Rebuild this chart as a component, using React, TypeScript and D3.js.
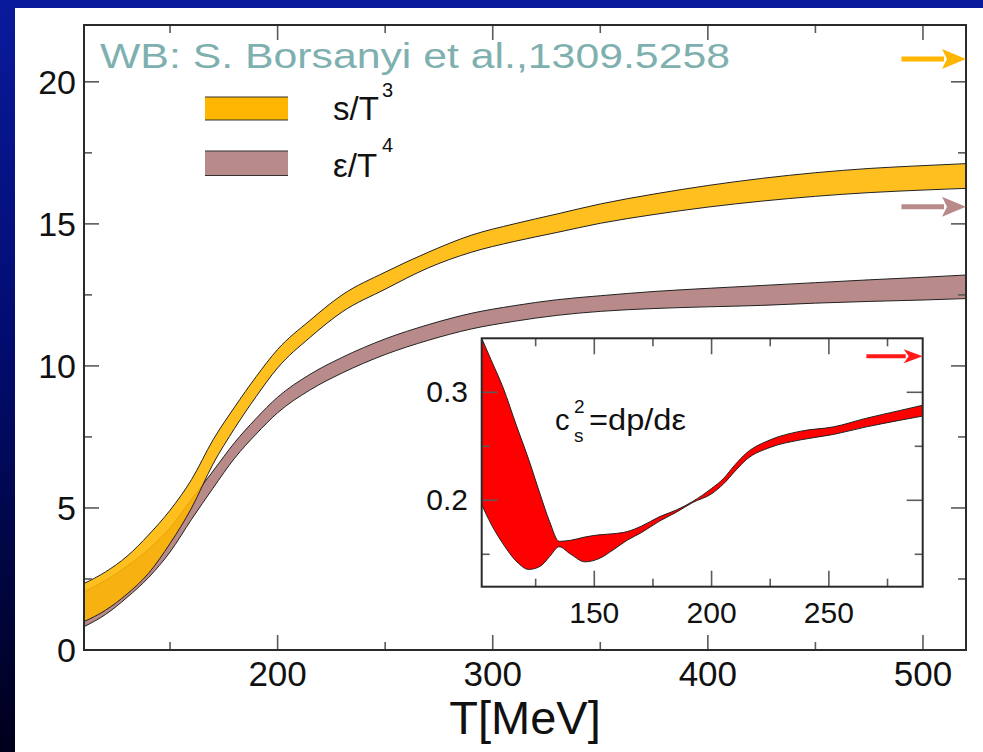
import React from "react";
import * as d3 from "d3";

// Temperature grid (MeV) for the thermodynamic bands
const tempGrid = [110, 120, 130, 140, 150, 160, 170, 180, 190, 200, 215, 230, 250, 270, 290, 310, 330, 350, 375, 400, 425, 450, 475, 500, 520];

// Entropy density s/T^3 (upper / lower edge of the error band)
const entropyUpper = [2.34, 2.75, 3.3, 4.05, 4.92, 6.0, 7.4, 8.55, 9.62, 10.58, 11.6, 12.5, 13.3, 14.0, 14.6, 15.0, 15.35, 15.7, 16.05, 16.35, 16.6, 16.8, 16.95, 17.05, 17.12];
const entropyLower = [1.0, 1.4, 1.97, 2.7, 3.75, 5.0, 6.55, 7.8, 8.92, 9.93, 11.0, 11.9, 12.7, 13.45, 14.0, 14.38, 14.7, 15.02, 15.33, 15.59, 15.8, 15.97, 16.1, 16.19, 16.25];

// Energy density ε/T^4 (upper / lower edge)
const energyUpper = [2.05, 2.45, 2.95, 3.55, 4.3, 5.3, 6.3, 7.3, 8.15, 8.9, 9.7, 10.3, 10.95, 11.45, 11.85, 12.12, 12.33, 12.47, 12.62, 12.73, 12.83, 12.93, 13.03, 13.12, 13.2];
const energyLower = [0.82, 1.25, 1.85, 2.55, 3.45, 4.6, 5.7, 6.75, 7.6, 8.35, 9.15, 9.75, 10.4, 10.9, 11.3, 11.57, 11.78, 11.92, 12.02, 12.08, 12.13, 12.21, 12.27, 12.32, 12.37];

// Speed of sound squared c_s^2 = dp/dε
const soundTemp = [102, 106, 111, 117, 122, 127, 131, 135, 140, 146, 152, 158, 164, 170, 178, 185, 192, 200, 205, 210, 215, 225, 238, 252, 266, 280, 290];
const soundUpper = [0.35, 0.33, 0.305, 0.268, 0.238, 0.205, 0.18, 0.162, 0.163, 0.166, 0.168, 0.169, 0.171, 0.176, 0.185, 0.191, 0.199, 0.211, 0.22, 0.233, 0.244, 0.256, 0.264, 0.268, 0.276, 0.283, 0.288];
const soundLower = [0.196, 0.178, 0.16, 0.143, 0.136, 0.139, 0.148, 0.157, 0.15, 0.143, 0.146, 0.154, 0.163, 0.17, 0.181, 0.189, 0.198, 0.206, 0.215, 0.227, 0.238, 0.249, 0.256, 0.261, 0.268, 0.274, 0.278];

// Stefan–Boltzmann / conformal limits marked by arrows
const entropyLimit = 20.8;
const energyLimit = 15.6;
const soundLimit = 1 / 3;

// Axis ticks
const mainXMajor = [200, 300, 400, 500];
const mainXMinor = [150, 250, 350, 450];
const mainYMajor = [0, 5, 10, 15, 20];
const mainYMinor = [2.5, 7.5, 12.5, 17.5];
const insetXMajor = [150, 200, 250];
const insetXMinor = [125, 175, 225, 275];
const insetYMajor = [0.2, 0.3];
const insetYMinor = [0.15, 0.25];

const W = 983;
const H = 752;
const FONT = "'Liberation Sans', Arial, Helvetica, sans-serif";

type Pt = { t: number; lo: number; hi: number };

const zip = (t: number[], lo: number[], hi: number[]): Pt[] =>
  t.map((v, i) => ({ t: v, lo: lo[i], hi: hi[i] }));

export default function App() {
  // main panel
  const x = d3.scaleLinear().domain([110, 520]).range([84, 966]);
  const y = d3.scaleLinear().domain([0, 22]).range([650, 25]);
  // inset panel
  const xi = d3.scaleLinear().domain([102, 290]).range([481.7, 922.7]);
  const yi = d3.scaleLinear().domain([0.12, 0.35]).range([586.7, 338.3]);

  const entropy = zip(tempGrid, entropyLower, entropyUpper);
  const energy = zip(tempGrid, energyLower, energyUpper);
  const sound = zip(soundTemp, soundLower, soundUpper);

  const bandMain = d3
    .area<Pt>()
    .x((d) => x(d.t))
    .y0((d) => y(d.lo))
    .y1((d) => y(d.hi))
    .curve(d3.curveMonotoneX);
  const edgeMain = (key: "lo" | "hi") =>
    d3
      .line<Pt>()
      .x((d) => x(d.t))
      .y((d) => y(d[key]))
      .curve(d3.curveMonotoneX);
  const bandInset = d3
    .area<Pt>()
    .x((d) => xi(d.t))
    .y0((d) => yi(d.lo))
    .y1((d) => yi(d.hi))
    .curve(d3.curveMonotoneX);
  const edgeInset = (key: "lo" | "hi") =>
    d3
      .line<Pt>()
      .x((d) => xi(d.t))
      .y((d) => yi(d[key]))
      .curve(d3.curveMonotoneX);

  const [mx0, mx1] = x.range();
  const [my0, my1] = y.range();
  const [ix0, ix1] = xi.range();
  const [iy0, iy1] = yi.range();

  const tickColor = "#5a5a5a";
  const frameColor = "#2a2a2a";

  const frameTicks = (
    sx: (v: number) => number,
    sy: (v: number) => number,
    xMaj: number[],
    xMin: number[],
    yMaj: number[],
    yMin: number[],
    left: number,
    right: number,
    bottom: number,
    top: number,
    major: number,
    minor: number
  ) => {
    const out: React.ReactNode[] = [];
    const addX = (vals: number[], len: number, k: string) =>
      vals.forEach((v, i) => {
        out.push(<line key={`xb${k}${i}`} x1={sx(v)} x2={sx(v)} y1={bottom} y2={bottom - len} />);
        out.push(<line key={`xt${k}${i}`} x1={sx(v)} x2={sx(v)} y1={top} y2={top + len} />);
      });
    const addY = (vals: number[], len: number, k: string) =>
      vals.forEach((v, i) => {
        out.push(<line key={`yl${k}${i}`} y1={sy(v)} y2={sy(v)} x1={left} x2={left + len} />);
        out.push(<line key={`yr${k}${i}`} y1={sy(v)} y2={sy(v)} x1={right} x2={right - len} />);
      });
    addX(xMaj, major, "M");
    addX(xMin, minor, "m");
    addY(yMaj, major, "M");
    addY(yMin, minor, "m");
    return out;
  };

  const arrow = (x1: number, x2: number, yy: number, color: string, width: number, headLen: number, headHalf: number) => (
    <g>
      <line x1={x1} x2={x2 - headLen + 2} y1={yy} y2={yy} stroke={color} strokeWidth={width} />
      <path d={`M${x2},${yy} L${x2 - headLen},${yy - headHalf} L${x2 - headLen + 5},${yy} L${x2 - headLen},${yy + headHalf} Z`} fill={color} />
    </g>
  );

  return (
    <svg
      width={W}
      height={H}
      viewBox={`0 0 ${W} ${H}`}
      style={{ position: "absolute", left: 0, top: 0, display: "block" }}
      fontFamily={FONT}
    >
      <defs>
        <linearGradient id="bgGrad" x1="0" y1="0" x2="0" y2="1">
          <stop offset="0" stopColor="#0a1a9c" />
          <stop offset="0.45" stopColor="#020c70" />
          <stop offset="1" stopColor="#00001c" />
        </linearGradient>
        <clipPath id="mainClip">
          <rect x={mx0} y={my1} width={mx1 - mx0} height={my0 - my1} />
        </clipPath>
        <clipPath id="insetClip">
          <rect x={ix0} y={iy1} width={ix1 - ix0} height={iy0 - iy1} />
        </clipPath>
      </defs>

      <rect x={0} y={0} width={W} height={H} fill="url(#bgGrad)" />
      <rect x={15} y={8} width={W - 15} height={H - 8} fill="#ffffff" />

      {/* main bands */}
      <g clipPath="url(#mainClip)">
        <path d={bandMain(energy) ?? ""} fill="#b98a8a" />
        <path d={edgeMain("hi")(energy) ?? ""} fill="none" stroke="#222" strokeWidth={1} />
        <path d={edgeMain("lo")(energy) ?? ""} fill="none" stroke="#222" strokeWidth={1} />
        <path d={bandMain(entropy) ?? ""} fill="#ffb600" fillOpacity={0.88} />
        <path d={edgeMain("hi")(entropy) ?? ""} fill="none" stroke="#222" strokeWidth={1} />
        <path d={edgeMain("lo")(entropy) ?? ""} fill="none" stroke="#222" strokeWidth={1} />
      </g>

      {/* main frame */}
      <g stroke={tickColor} strokeWidth={1.6}>
        {frameTicks(x, y, mainXMajor, mainXMinor, mainYMajor, mainYMinor, mx0, mx1, my0, my1, 15, 8)}
      </g>
      <rect x={mx0} y={my1} width={mx1 - mx0} height={my0 - my1} fill="none" stroke={frameColor} strokeWidth={2} />

      {/* main tick labels */}
      <g fontSize={35} fill="#111" textAnchor="middle">
        {mainXMajor.map((v) => (
          <text key={`xl${v}`} x={x(v)} y={686}>
            {v}
          </text>
        ))}
      </g>
      <g fontSize={34} fill="#111" textAnchor="end">
        {mainYMajor.map((v) => (
          <text key={`yl${v}`} x={76} y={y(v) + 12}>
            {v}
          </text>
        ))}
      </g>
      <text x={(mx0 + mx1) / 2} y={734} fontSize={47} textAnchor="middle" fill="#111">
        T[MeV]
      </text>

      {/* limit arrows */}
      {arrow(x(490), x(520), y(entropyLimit), "#ffb600", 5, 24, 10)}
      {arrow(x(490), x(520), y(energyLimit), "#b98a8a", 5, 24, 10)}

      {/* reference label */}
      <text x={100} y={68} fontSize={35} fill="#7fb0b0" textLength={630} lengthAdjust="spacingAndGlyphs">
        WB: S. Borsanyi et al.,1309.5258
      </text>

      {/* legend */}
      <rect x={205} y={97} width={83} height={23} fill="#ffb600" />
      <line x1={205} x2={288} y1={97} y2={97} stroke="#333" strokeWidth={1.2} />
      <line x1={205} x2={288} y1={120} y2={120} stroke="#333" strokeWidth={1.2} />
      <rect x={205} y={151} width={83} height={24.5} fill="#b98a8a" />
      <line x1={205} x2={288} y1={151} y2={151} stroke="#333" strokeWidth={1.2} />
      <line x1={205} x2={288} y1={175.5} y2={175.5} stroke="#333" strokeWidth={1.2} />
      <g fill="#111">
        <text x={333} y={120} fontSize={33}>
          s/T
        </text>
        <text x={382} y={97} fontSize={20}>
          3
        </text>
        <text x={333} y={177} fontSize={33}>
          ε/T
        </text>
        <text x={382} y={152} fontSize={20}>
          4
        </text>
      </g>

      {/* inset */}
      <rect x={ix0} y={iy1} width={ix1 - ix0} height={iy0 - iy1} fill="#ffffff" />
      <g clipPath="url(#insetClip)">
        <path d={bandInset(sound) ?? ""} fill="#ff0000" />
        <path d={edgeInset("hi")(sound) ?? ""} fill="none" stroke="#222" strokeWidth={1} />
        <path d={edgeInset("lo")(sound) ?? ""} fill="none" stroke="#222" strokeWidth={1} />
      </g>
      <g stroke={tickColor} strokeWidth={1.6}>
        {frameTicks(xi, yi, insetXMajor, insetXMinor, insetYMajor, insetYMinor, ix0, ix1, iy0, iy1, 16, 8)}
      </g>
      <rect x={ix0} y={iy1} width={ix1 - ix0} height={iy0 - iy1} fill="none" stroke={frameColor} strokeWidth={2} />
      {arrow(xi(266), xi(290), yi(soundLimit), "#ff1a1a", 4, 19, 7)}

      <g fontSize={30} fill="#111" textAnchor="middle">
        {insetXMajor.map((v) => (
          <text key={`ixl${v}`} x={xi(v)} y={623}>
            {v}
          </text>
        ))}
      </g>
      <g fontSize={30} fill="#111" textAnchor="end">
        {insetYMajor.map((v) => (
          <text key={`iyl${v}`} x={468} y={yi(v) + 10}>
            {v.toFixed(1)}
          </text>
        ))}
      </g>
      <g fill="#111">
        <text x={555} y={430} fontSize={29}>
          c
        </text>
        <text x={574} y={413} fontSize={19}>
          2
        </text>
        <text x={574} y={442} fontSize={19}>
          s
        </text>
        <text x={589} y={430} fontSize={29} textLength={97} lengthAdjust="spacingAndGlyphs">
          =dp/dε
        </text>
      </g>
    </svg>
  );
}
